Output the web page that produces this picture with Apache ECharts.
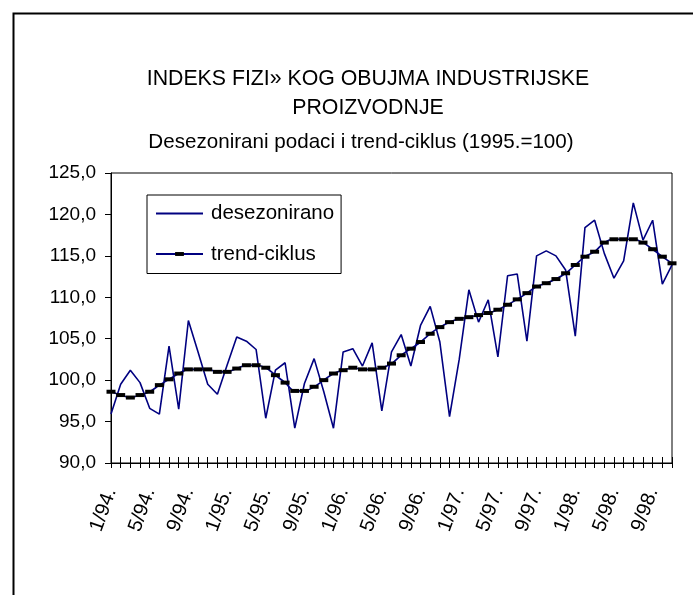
<!DOCTYPE html>
<html>
<head>
<meta charset="utf-8">
<title>Indeks fizičkog obujma industrijske proizvodnje</title>
<script src="https://cdn.jsdelivr.net/npm/echarts@6/dist/echarts.min.js"></script>
<style>
  html, body { margin: 0; padding: 0; background: #fff; }
  #chart { width: 693px; height: 595px; }
</style>
</head>
<body>
<div id="chart"></div>
<script>
// mjeseci 1/94. - 11/98.
var months = [
  '1/94.', '2/94.', '3/94.', '4/94.', '5/94.', '6/94.', '7/94.', '8/94.', '9/94.', '10/94.', '11/94.', '12/94.',
  '1/95.', '2/95.', '3/95.', '4/95.', '5/95.', '6/95.', '7/95.', '8/95.', '9/95.', '10/95.', '11/95.', '12/95.',
  '1/96.', '2/96.', '3/96.', '4/96.', '5/96.', '6/96.', '7/96.', '8/96.', '9/96.', '10/96.', '11/96.', '12/96.',
  '1/97.', '2/97.', '3/97.', '4/97.', '5/97.', '6/97.', '7/97.', '8/97.', '9/97.', '10/97.', '11/97.', '12/97.',
  '1/98.', '2/98.', '3/98.', '4/98.', '5/98.', '6/98.', '7/98.', '8/98.', '9/98.', '10/98.', '11/98.'
]

var desezonirano = [
  95.9, 99.5, 101.2, 99.7, 96.6, 95.9, 104.1, 96.5, 107.2, 103.4, 99.5, 98.3,
  101.8, 105.2, 104.7, 103.7, 95.4, 101.2, 102.1, 94.2, 99.6, 102.6, 98.6, 94.2,
  103.4, 103.8, 101.7, 104.5, 96.3, 103.4, 105.5, 101.7, 106.6, 108.9, 104.6, 95.6,
  102.5, 110.9, 107.0, 109.7, 102.8, 112.6, 112.8, 104.7, 115.0, 115.6, 115.0, 113.3,
  105.3, 118.4, 119.3, 115.3, 112.3, 114.4, 121.4, 116.9, 119.3, 111.6, 113.9
]

var trendCiklus = [
  98.6, 98.2, 97.9, 98.2, 98.6, 99.4, 100.1, 100.8, 101.3, 101.3, 101.3, 101.0,
  101.0, 101.4, 101.8, 101.8, 101.5, 100.6, 99.7, 98.7, 98.7, 99.2, 100.0, 100.8,
  101.2, 101.5, 101.3, 101.3, 101.5, 102.0, 103.0, 103.8, 104.6, 105.6, 106.4, 107.0,
  107.4, 107.6, 107.85, 108.1, 108.5, 109.1, 109.75, 110.5, 111.3, 111.7, 112.2, 112.9,
  113.9, 114.9, 115.5, 116.6, 117.0, 117.0, 117.0, 116.6, 115.8, 114.9, 114.1
]

var font = 'Arial, "Liberation Sans", sans-serif'

// crtica kao marker; prazne točke drže kvadratni okvir da i u legendi ostane crtica
var dashSymbol = 'path://M0,2.5H9V6.5H0Z M4.5,0L4.5,0 M4.5,9L4.5,9'

var option = {
  backgroundColor: '#fff',
  animation: false,
  textStyle: { fontFamily: font, color: '#000' },
  title: [{
    text: 'INDEKS FIZI» KOG OBUJMA INDUSTRIJSKE\nPROIZVODNJE',
    left: 368,
    textAlign: 'center',
    top: 65,
    padding: 0,
    textStyle: { fontFamily: font, fontSize: 21.3, fontWeight: 'normal', color: '#000', lineHeight: 29 }
  }, {
    text: 'Desezonirani podaci i trend-ciklus (1995.=100)',
    left: 361,
    textAlign: 'center',
    top: 131,
    padding: 0,
    textStyle: { fontFamily: font, fontSize: 20.6, fontWeight: 'normal', color: '#000', lineHeight: 22 }
  }],
  // okvir oko cijelog grafikona
  graphic: [{
    type: 'rect',
    left: 11,
    top: 11,
    shape: { width: 720, height: 640 },
    style: { fill: 'none', stroke: '#000', lineWidth: 2 },
    silent: true
  }],
  legend: {
    orient: 'vertical',
    left: 147,
    top: 195,
    padding: [8, 7, 9, 8],
    itemWidth: 47,
    itemHeight: 11,
    itemGap: 19.5,
    borderColor: '#000',
    borderWidth: 1,
    backgroundColor: '#fff',
    textStyle: { fontFamily: font, fontSize: 20.5, color: '#000', padding: [0, 0, 0, 3] },
    data: [
      { name: 'desezonirano', itemStyle: { opacity: 0 } },
      { name: 'trend-ciklus' }
    ]
  },
  grid: {
    left: 111,
    right: 21,
    top: 173,
    bottom: 132,
    show: true,
    borderColor: '#000',
    borderWidth: 1,
    backgroundColor: '#fff'
  },
  xAxis: [{
    type: 'category',
    data: months,
    boundaryGap: false,
    axisLine: { lineStyle: { color: '#000', width: 1 } },
    axisTick: { show: true, interval: 0, length: 5, lineStyle: { color: '#000' } },
    axisLabel: {
      interval: 3,
      rotate: 70,
      margin: 26,
      fontFamily: font,
      fontSize: 20,
      color: '#000'
    },
    splitLine: { show: false }
  }, {
    // druga os samo za crtice iznad osi
    type: 'category',
    data: months,
    position: 'bottom',
    boundaryGap: false,
    axisLine: { show: false },
    axisTick: { show: true, inside: true, interval: 0, length: 6, lineStyle: { color: '#000' } },
    axisLabel: { show: false },
    splitLine: { show: false }
  }],
  yAxis: {
    type: 'value',
    min: 90,
    max: 125,
    interval: 5,
    axisLine: { show: true, lineStyle: { color: '#000', width: 1 } },
    axisTick: { show: true, length: 6, lineStyle: { color: '#000' } },
    axisLabel: {
      margin: 15,
      fontFamily: font,
      fontSize: 19,
      color: '#000',
      formatter: function (v) { return v.toFixed(1).replace('.', ',') }
    },
    splitLine: { show: false }
  },
  series: [
    {
      name: 'desezonirano',
      type: 'line',
      data: desezonirano,
      symbol: 'none',
      color: '#000080',
      lineStyle: { color: '#000080', width: 1.6 }
    },
    {
      name: 'trend-ciklus',
      type: 'line',
      data: trendCiklus,
      smooth: 0.3,
      symbol: dashSymbol,
      symbolSize: 9,
      showAllSymbol: true,
      itemStyle: { color: '#000' },
      lineStyle: { color: '#000080', width: 1.6 }
    }
  ]
}

var myChart = echarts.init(document.getElementById('chart'))
myChart.setOption(option)
</script>
</body>
</html>
